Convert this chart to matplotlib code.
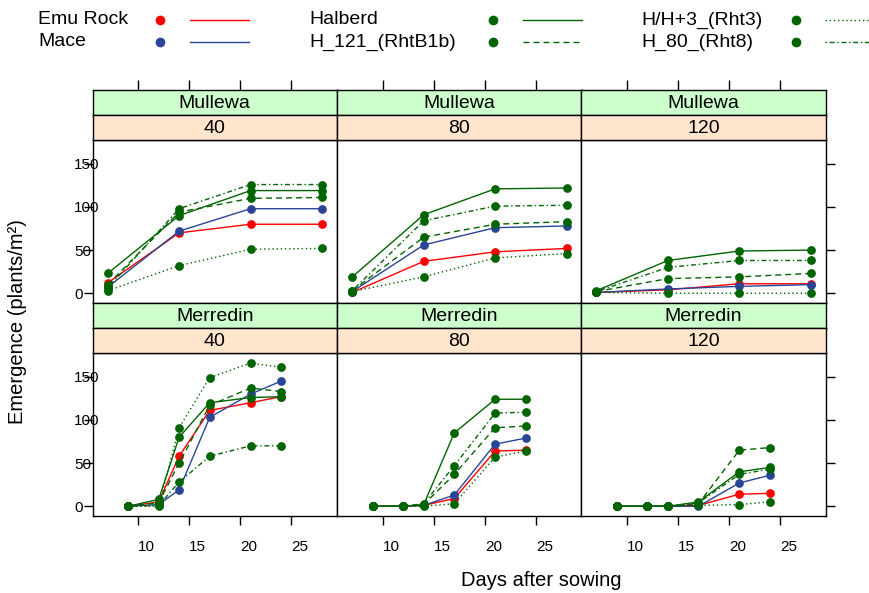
import matplotlib
matplotlib.use("Agg")
import matplotlib.pyplot as plt
from matplotlib.lines import Line2D

plt.rcParams['font.family'] = ['Liberation Sans', 'DejaVu Sans']

# ---------------- data ----------------
genotypes = ["Emu Rock", "Mace", "Halberd", "H_121_(RhtB1b)", "H/H+3_(Rht3)", "H_80_(Rht8)"]
colors = ["#FF0000", "#2A4596", "#006400", "#006400", "#006400", "#006400"]
styles = ["-", "-", "-", (0, (4.3, 2.9)), (0, (1, 2)), (0, (1, 2, 3.5, 2))]

sites = ["Mullewa", "Merredin"]
densities = ["40", "80", "120"]

days_mullewa = [7, 14, 21, 28]
days_merredin = [9, 12, 14, 17, 21, 24]

# Mullewa, density 40/80/120 ; order of genotypes as above
mul_40 = [[12, 70, 80, 80], [7, 72, 98, 98], [23, 90, 119, 119],
          [10, 94, 110, 111], [3, 32, 51, 52], [6, 98, 126, 126]]
mul_80 = [[1, 37, 48, 52], [2, 56, 76, 78], [19, 91, 121, 122],
          [3, 65, 80, 83], [2, 19, 41, 46], [3, 84, 101, 102]]
mul_120 = [[1, 4, 11, 11], [1, 5, 8, 10], [3, 38, 49, 50],
           [2, 17, 19, 23], [1, 0, 0, 0], [2, 30, 38, 38]]
# Merredin
mer_40 = [[0, 5, 58, 111, 120, 127], [0, 2, 19, 103, 130, 145], [0, 8, 80, 120, 126, 127],
          [0, 4, 50, 117, 137, 133], [0, 0, 91, 149, 166, 161], [0, 1, 28, 58, 70, 70]]
mer_80 = [[0, 0, 1, 9, 64, 65], [0, 0, 1, 13, 72, 79], [0, 0, 2, 85, 124, 124],
          [0, 0, 2, 37, 91, 93], [0, 0, 0, 3, 57, 64], [0, 0, 3, 47, 108, 109]]
mer_120 = [[0, 0, 0, 1, 14, 15], [0, 0, 0, 0, 27, 36], [0, 0, 0, 5, 40, 45],
           [0, 0, 0, 3, 65, 68], [0, 0, 0, 1, 2, 5], [0, 0, 0, 4, 37, 43]]

panel_data = {("Mullewa", "40"): mul_40, ("Mullewa", "80"): mul_80, ("Mullewa", "120"): mul_120,
              ("Merredin", "40"): mer_40, ("Merredin", "80"): mer_80, ("Merredin", "120"): mer_120}
panel_days = {"Mullewa": days_mullewa, "Merredin": days_merredin}

xticks = [10, 15, 20, 25]
yticks = [0, 50, 100, 150]

# ---------------- layout ----------------
W, H = 870, 593
fig = plt.figure(figsize=(W / 100, H / 100), dpi=100)

def add_px(x0, ytop, w, h, **kw):
    return fig.add_axes([x0 / W, (H - ytop - h) / H, w / W, h / H], **kw)

col_x = [92.7, 337.3, 581.5]
col_w = 244.2
row_panel_top = [140.0, 353.0]
panel_h = 163.3
strip_h = 25.0

allx = days_mullewa + days_merredin
xr = max(allx) - min(allx)
xlim = (min(allx) - 0.07 * xr, max(allx) + 0.07 * xr)
ally = [v for d in panel_data.values() for s in d for v in s]
yr = max(ally) - min(ally)
ylim = (min(ally) - 0.07 * yr, max(ally) + 0.07 * yr)

tick_kw = dict(direction='out', width=1.0, color='black', labelsize=11)

for r, site in enumerate(sites):
    for c, dens in enumerate(densities):
        ax = add_px(col_x[c], row_panel_top[r], col_w, panel_h)
        days = panel_days[site]
        for g, vals in enumerate(panel_data[(site, dens)]):
            ax.plot(days, vals, color=colors[g], linestyle=styles[g], lw=1.0,
                    marker='o', markersize=6.3, markeredgewidth=0)
        ax.set_xlim(*xlim)
        ax.set_ylim(*ylim)
        for sp in ax.spines.values():
            sp.set_linewidth(1.0)
        ax.set_xticks(xticks)
        ax.set_yticks(yticks)
        ax.tick_params(axis='x', length=6.5, pad=10.5, **tick_kw)
        ax.tick_params(axis='y', length=6.5, pad=7, **tick_kw)
        ax.tick_params(axis='x', bottom=(r == 1), labelbottom=(r == 1), top=False)
        ax.tick_params(axis='y', left=(c == 0), labelleft=(c == 0),
                       right=(c == 2), labelright=False)
        for lab in ax.get_xticklabels():
            lab.set_ha('left')
        for lab in ax.get_yticklabels():
            lab.set_ha('left')

        # strips
        for k, (txt, fc) in enumerate([(site, "#CCFFCC"), (dens, "#FFE5CC")]):
            sax = add_px(col_x[c], row_panel_top[r] - strip_h * (2 - k), col_w, strip_h)
            sax.set_facecolor(fc)
            sax.set_xlim(*xlim)
            sax.set_ylim(0, 1)
            for sp in sax.spines.values():
                sp.set_linewidth(1.0)
            sax.set_yticks([])
            if r == 0 and k == 0:
                sax.set_xticks(xticks)
                sax.tick_params(axis='x', top=True, bottom=False, labelbottom=False,
                                labeltop=False, direction='out', length=7, width=1.0)
            else:
                sax.set_xticks([])
            sax.text(0.5, 0.45, txt, transform=sax.transAxes, ha='center', va='center',
                     fontsize=14)

# axis labels
fig.text(18 / W, 1 - 322 / H, "Emergence (plants/m²)", rotation=90, ha='center',
         va='center', fontsize=14.5)
fig.text(541 / W, 1 - 581 / H, "Days after sowing", ha='center', va='center', fontsize=14.5)

# legend (manual key, 3 columns x 2 rows)
lax = fig.add_axes([0, 0, 1, 1], facecolor='none')
lax.set_xlim(0, W)
lax.set_ylim(H, 0)
lax.axis('off')
leg_cols = [(38, 160.5, 190.5, 249), (309, 493, 523, 582), (641, 796, 825, 884)]
leg_rows = [20, 42]
for g, name in enumerate(genotypes):
    c, r = divmod(g, 2)
    tx, px, lx0, lx1 = leg_cols[c]
    y = leg_rows[r]
    lax.text(tx, y, name, ha='left', va='center', fontsize=14)
    lax.add_line(Line2D([px], [y], marker='o', markersize=7, color=colors[g],
                        markeredgewidth=0, linestyle='none'))
    lax.add_line(Line2D([lx0, lx1], [y, y], color=colors[g], linestyle=styles[g], lw=1.0))

fig.savefig("out.png", dpi=100)
